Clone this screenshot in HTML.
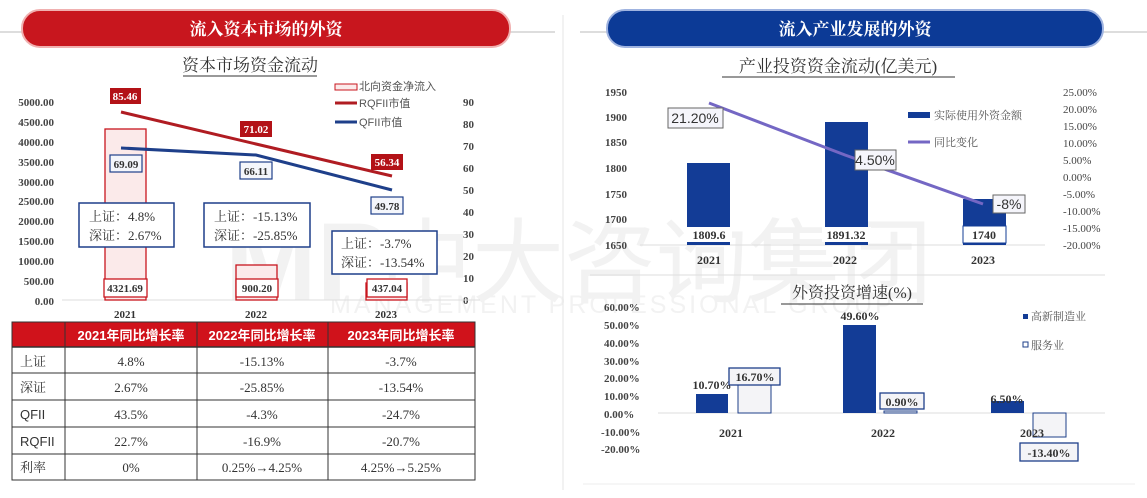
<!DOCTYPE html>
<html><head><meta charset="utf-8"><style>
body{margin:0;background:#fff;}
svg{display:block;font-family:"Liberation Serif","Noto Serif CJK SC",serif;}
.s{font-family:"Liberation Sans","Noto Sans CJK SC",sans-serif;}
</style></head><body>
<svg width="1147" height="498" viewBox="0 0 1147 498" xmlns="http://www.w3.org/2000/svg">
<rect width="1147" height="498" fill="#fff"/>
<!-- watermark -->
<g fill="#f0f0f0" font-family="Liberation Sans,Noto Sans CJK SC,sans-serif" opacity="0.85">
<text x="225" y="300" font-size="110" font-weight="bold">MP</text>
<text x="380" y="295" font-size="92" font-family="Noto Sans CJK SC,sans-serif">中大咨询集团</text>
<text x="330" y="313" font-size="25" letter-spacing="3">MANAGEMENT PROFESSIONAL GROUP</text>
</g>
<!-- headers -->
<line x1="0" y1="32" x2="22" y2="32" stroke="#bbb"/>
<line x1="510" y1="32" x2="555" y2="32" stroke="#bbb"/>
<rect x="22" y="10" width="488" height="37" rx="18" fill="#c8161e" stroke="#f0b0b0" stroke-width="2"/>
<text x="266" y="35" font-size="17" fill="#fff" text-anchor="middle" font-weight="bold">流入资本市场的外资</text>
<line x1="580" y1="32" x2="607" y2="32" stroke="#bbb"/>
<line x1="1103" y1="32" x2="1147" y2="32" stroke="#bbb"/>
<rect x="607" y="10" width="496" height="37" rx="18" fill="#0c3a96" stroke="#9fb3e0" stroke-width="2"/>
<text x="855" y="35" font-size="17" fill="#fff" text-anchor="middle" font-weight="bold">流入产业发展的外资</text>
<line x1="563" y1="15" x2="563" y2="490" stroke="#e5e5e5"/>

<!-- LEFT chart -->
<text x="250" y="71" font-size="17" text-anchor="middle" fill="#333">资本市场资金流动</text>
<line x1="183" y1="76" x2="317" y2="76" stroke="#333"/>
<g font-size="11" font-weight="bold" fill="#444" text-anchor="end">
<text x="54" y="106">5000.00</text><text x="54" y="126">4500.00</text><text x="54" y="146">4000.00</text><text x="54" y="166">3500.00</text><text x="54" y="186">3000.00</text><text x="54" y="205">2500.00</text><text x="54" y="225">2000.00</text><text x="54" y="245">1500.00</text><text x="54" y="265">1000.00</text><text x="54" y="285">500.00</text><text x="54" y="305">0.00</text>
</g>
<g font-size="11" font-weight="bold" fill="#444">
<text x="463" y="106">90</text><text x="463" y="128">80</text><text x="463" y="150">70</text><text x="463" y="172">60</text><text x="463" y="194">50</text><text x="463" y="216">40</text><text x="463" y="238">30</text><text x="463" y="260">20</text><text x="463" y="282">10</text><text x="463" y="304">0</text>
</g>
<line x1="62" y1="300" x2="480" y2="300" stroke="#ddd"/>
<g fill="#fbeaea" stroke="#c8161e" stroke-width="1.3">
<rect x="105" y="129" width="41" height="171"/>
<rect x="236" y="265" width="41" height="35"/>
<rect x="366" y="283" width="41" height="17"/>
</g>
<g fill="#fff" stroke="#c8161e" stroke-width="1.3">
<rect x="104" y="279" width="43" height="18"/><rect x="236" y="279" width="42" height="18"/><rect x="367" y="279" width="40" height="18"/>
</g>
<g font-size="11" font-weight="bold" fill="#333" text-anchor="middle">
<text x="125" y="292">4321.69</text><text x="257" y="292">900.20</text><text x="387" y="292">437.04</text>
</g>
<g font-size="11" font-weight="bold" fill="#333" text-anchor="middle">
<text x="125" y="318">2021</text><text x="256" y="318">2022</text><text x="386" y="318">2023</text>
</g>
<polyline points="121,112 256,144 392,176" fill="none" stroke="#b01c22" stroke-width="3"/>
<polyline points="121,148 256,155 392,190" fill="none" stroke="#1e3f8a" stroke-width="3"/>
<g fill="#b31217"><rect x="110" y="88" width="31" height="16"/><rect x="240" y="121" width="32" height="16"/><rect x="371" y="154" width="32" height="16"/></g>
<g font-size="11" font-weight="bold" fill="#fff" text-anchor="middle">
<text x="125" y="100">85.46</text><text x="256" y="133">71.02</text><text x="387" y="166">56.34</text>
</g>
<g fill="#f4f6fb" stroke="#1e3f8a" stroke-width="1.2"><rect x="110" y="155" width="32" height="17"/><rect x="240" y="162" width="32" height="17"/><rect x="371" y="197" width="32" height="17"/></g>
<g font-size="11" font-weight="bold" fill="#333" text-anchor="middle">
<text x="126" y="168">69.09</text><text x="256" y="175">66.11</text><text x="387" y="210">49.78</text>
</g>
<g fill="#fff" stroke="#1e3f8a" stroke-width="1.5">
<rect x="79" y="203" width="95" height="44"/><rect x="204" y="203" width="106" height="44"/><rect x="332" y="231" width="105" height="43"/>
</g>
<g font-size="13" fill="#333">
<text x="89" y="221">上证：4.8%</text><text x="89" y="240">深证：2.67%</text>
<text x="214" y="221">上证：-15.13%</text><text x="214" y="240">深证：-25.85%</text>
<text x="341" y="248">上证：-3.7%</text><text x="341" y="267">深证：-13.54%</text>
</g>
<rect x="335" y="84" width="22" height="6" fill="#fbeaea" stroke="#c8161e"/>
<line x1="335" y1="103" x2="357" y2="103" stroke="#b01c22" stroke-width="3"/>
<line x1="335" y1="122" x2="357" y2="122" stroke="#1e3f8a" stroke-width="3"/>
<g font-size="11" fill="#555" class="s"><text x="359" y="90">北向资金净流入</text><text x="359" y="107">RQFII市值</text><text x="359" y="126">QFII市值</text></g>

<!-- table -->
<rect x="12" y="322" width="463" height="25" fill="#d0121b"/>
<g font-size="13" font-weight="bold" fill="#fff" text-anchor="middle" class="s">
<text x="131" y="340">2021年同比增长率</text><text x="262" y="340">2022年同比增长率</text><text x="401" y="340">2023年同比增长率</text>
</g>
<g stroke="#333" stroke-width="1" fill="none">
<rect x="12" y="322" width="463" height="158"/>
<line x1="12" y1="347" x2="475" y2="347" stroke-width="1.5"/>
<line x1="12" y1="373" x2="475" y2="373"/><line x1="12" y1="400" x2="475" y2="400"/><line x1="12" y1="427" x2="475" y2="427"/><line x1="12" y1="454" x2="475" y2="454"/>
<line x1="65" y1="322" x2="65" y2="480"/><line x1="197" y1="322" x2="197" y2="480"/><line x1="328" y1="322" x2="328" y2="480"/>
</g>
<g font-size="13" fill="#333">
<text x="20" y="366">上证</text><text x="20" y="392">深证</text><text x="20" y="419" class="s">QFII</text><text x="20" y="446" class="s">RQFII</text><text x="20" y="472">利率</text>
</g>
<g font-size="13" fill="#333" text-anchor="middle">
<text x="131" y="366">4.8%</text><text x="262" y="366">-15.13%</text><text x="401" y="366">-3.7%</text>
<text x="131" y="392">2.67%</text><text x="262" y="392">-25.85%</text><text x="401" y="392">-13.54%</text>
<text x="131" y="419">43.5%</text><text x="262" y="419">-4.3%</text><text x="401" y="419">-24.7%</text>
<text x="131" y="446">22.7%</text><text x="262" y="446">-16.9%</text><text x="401" y="446">-20.7%</text>
<text x="131" y="472">0%</text><text x="262" y="472">0.25%→4.25%</text><text x="401" y="472">4.25%→5.25%</text>
</g>

<!-- RIGHT TOP -->
<text x="838" y="72" font-size="17" text-anchor="middle" fill="#333">产业投资资金流动(亿美元)</text>
<line x1="722" y1="77" x2="955" y2="77" stroke="#333"/>
<g font-size="11" font-weight="bold" fill="#444">
<text x="605" y="96">1950</text><text x="605" y="121">1900</text><text x="605" y="146">1850</text><text x="605" y="172">1800</text><text x="605" y="198">1750</text><text x="605" y="223">1700</text><text x="605" y="249">1650</text>
</g>
<g font-size="11" fill="#444">
<text x="1063" y="96">25.00%</text><text x="1063" y="113">20.00%</text><text x="1063" y="130">15.00%</text><text x="1063" y="147">10.00%</text><text x="1063" y="164">5.00%</text><text x="1063" y="181">0.00%</text><text x="1063" y="198">-5.00%</text><text x="1063" y="215">-10.00%</text><text x="1063" y="232">-15.00%</text><text x="1063" y="249">-20.00%</text>
</g>
<line x1="640" y1="245" x2="1045" y2="245" stroke="#ddd"/>
<g fill="#133c96">
<rect x="687" y="163" width="43" height="82"/><rect x="825" y="122" width="43" height="123"/><rect x="963" y="199" width="43" height="46"/>
</g>
<g fill="#fff"><rect x="685" y="227" width="47" height="15"/><rect x="822" y="227" width="49" height="15"/></g>
<rect x="963" y="226" width="43" height="17" fill="#fff" stroke="#133c96"/>
<g font-size="12" font-weight="bold" fill="#333" text-anchor="middle">
<text x="709" y="239">1809.6</text><text x="846" y="239">1891.32</text><text x="984" y="239">1740</text>
<text x="709" y="264">2021</text><text x="845" y="264">2022</text><text x="983" y="264">2023</text>
</g>
<polyline points="709,103 845,155 983,204" fill="none" stroke="#7467c4" stroke-width="3"/>
<g fill="#f5f5fb" stroke="#666"><rect x="668" y="108" width="55" height="20"/><rect x="855" y="150" width="41" height="20"/><rect x="993" y="195" width="32" height="18"/></g>
<g font-size="14" fill="#333" text-anchor="middle" class="s">
<text x="695" y="123">21.20%</text><text x="875" y="165">4.50%</text><text x="1009" y="209">-8%</text>
</g>
<rect x="908" y="112" width="22" height="6" fill="#133c96"/>
<line x1="908" y1="142" x2="930" y2="142" stroke="#7467c4" stroke-width="3"/>
<g font-size="11" fill="#555"><text x="934" y="119">实际使用外资金额</text><text x="934" y="146">同比变化</text></g>
<line x1="590" y1="275" x2="1105" y2="275" stroke="#ddd"/>

<!-- RIGHT BOTTOM -->
<text x="852" y="298" font-size="16" text-anchor="middle" fill="#333">外资投资增速(%)</text>
<line x1="781" y1="304" x2="923" y2="304" stroke="#333"/>
<g font-size="11" font-weight="bold" fill="#444">
<text x="604" y="311">60.00%</text><text x="604" y="329">50.00%</text><text x="604" y="347">40.00%</text><text x="604" y="365">30.00%</text><text x="604" y="382">20.00%</text><text x="604" y="400">10.00%</text><text x="604" y="418">0.00%</text><text x="601" y="436">-10.00%</text><text x="601" y="453">-20.00%</text>
</g>
<line x1="658" y1="413" x2="1105" y2="413" stroke="#ddd"/>
<g fill="#133c96"><rect x="696" y="394" width="32" height="19"/><rect x="843" y="325" width="33" height="88"/><rect x="991" y="401" width="33" height="12"/></g>
<g fill="#f4f4f7" stroke="#1e3f8a"><rect x="738" y="383" width="33" height="30"/><rect x="884" y="411" width="33" height="2"/><rect x="1033" y="413" width="33" height="24"/></g>
<g fill="#f4f4f7" stroke="#1e3f8a" stroke-width="1.3"><rect x="729" y="368" width="51" height="17"/><rect x="880" y="393" width="44" height="16"/><rect x="1020" y="443" width="58" height="18"/></g>
<g font-size="12" font-weight="bold" fill="#333" text-anchor="middle">
<text x="712" y="389">10.70%</text><text x="755" y="381">16.70%</text><text x="860" y="320">49.60%</text><text x="902" y="406">0.90%</text><text x="1007" y="403">6.50%</text><text x="1049" y="457">-13.40%</text>
<text x="731" y="437">2021</text><text x="883" y="437">2022</text><text x="1032" y="437">2023</text>
</g>
<rect x="1023" y="314" width="5" height="5" fill="#133c96"/>
<rect x="1023" y="342" width="5" height="5" fill="#fff" stroke="#1e3f8a"/>
<g font-size="11" fill="#555"><text x="1031" y="320">高新制造业</text><text x="1031" y="349">服务业</text></g>
<line x1="583" y1="484" x2="1135" y2="484" stroke="#eee"/>
</svg>
</body></html>
